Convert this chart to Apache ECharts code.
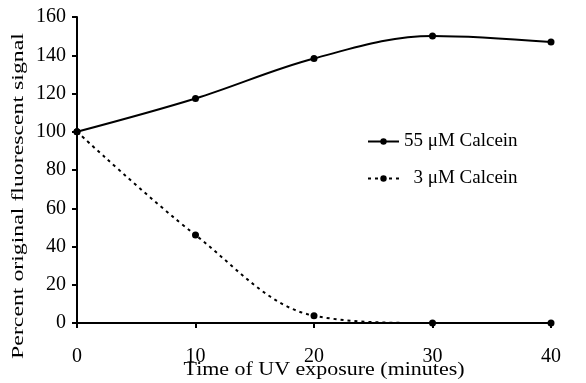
<!DOCTYPE html>
<html>
<head>
<meta charset="utf-8">
<script src="https://cdn.jsdelivr.net/npm/echarts@6/dist/echarts.min.js"></script>
<style>
  html, body { margin: 0; padding: 0; background: #fff; }
  #chart { width: 586px; height: 383px; }
</style>
</head>
<body>
<div id="chart"></div>
<script type="text/javascript">
  // data
  var minutes = [0, 10, 20, 30, 40];
  var high = [100, 117.4, 138.3, 150.1, 146.9];   // 55 uM
  var low = [100, 46, 3.8, 0, 0];                 // 3 uM
  var seriesNames = ['55 μM Calcein', '3 μM Calcein'];
  var xTitle = 'Time of UV exposure (minutes)';
  var yTitle = 'Percent original fluorescent signal';

  var serif = 'Liberation Serif';
  var chart = echarts.init(document.getElementById('chart'));

  function pairs(ys) {
    return minutes.map(function (x, i) { return [x, ys[i]]; });
  }

  var option = {
    animation: false,
    grid: { left: 77, right: 35, top: 17, bottom: 60, outerBoundsMode: 'none', containLabel: false },
    legend: {
      orient: 'vertical',
      left: 362,
      top: 127,
      itemGap: 18,
      itemWidth: 31,
      itemHeight: 8,
      textStyle: { fontFamily: serif, fontSize: 19, color: '#000' },
      formatter: function (name) {
        // second label sits indented by one digit in the original
        return name === seriesNames[1] ? '\u2007' + name : name;
      },
      data: seriesNames
    },
    // axis titles are stretched wide in the original, so draw them as scaled text
    graphic: [
      {
        type: 'text',
        x: 324, y: 370,
        scaleX: 1.22,
        style: {
          text: xTitle, fill: '#000',
          font: '18px "Liberation Serif"',
          textAlign: 'center', textVerticalAlign: 'middle'
        }
      },
      {
        type: 'text',
        x: 19, y: 196,
        rotation: Math.PI / 2,
        scaleX: 1.4,
        style: {
          text: yTitle, fill: '#000',
          font: '17px "Liberation Serif"',
          textAlign: 'center', textVerticalAlign: 'middle'
        }
      }
    ],
    xAxis: {
      type: 'value',
      min: 0, max: 40, interval: 10,
      axisLine: { onZero: false, lineStyle: { color: '#000', width: 2 } },
      axisTick: { show: true, length: 5, lineStyle: { color: '#000', width: 2 } },
      axisLabel: { fontFamily: serif, fontSize: 20, color: '#000', margin: 24 },
      splitLine: { show: false }
    },
    yAxis: {
      type: 'value',
      min: 0, max: 160, interval: 20,
      axisLine: { show: true, lineStyle: { color: '#000', width: 2 } },
      axisTick: { show: true, length: 5, lineStyle: { color: '#000', width: 2 } },
      axisLabel: { fontFamily: serif, fontSize: 20, color: '#000', margin: 11 },
      splitLine: { show: false }
    },
    series: [
      {
        name: seriesNames[0],
        type: 'line',
        smooth: 0.35,
        data: pairs(high),
        symbol: 'circle',
        symbolSize: 7,
        itemStyle: { color: '#000' },
        lineStyle: { color: '#000', width: 2, type: 'solid' }
      },
      {
        name: seriesNames[1],
        type: 'line',
        smooth: 0.35,
        data: pairs(low),
        symbol: 'circle',
        symbolSize: 7,
        itemStyle: { color: '#000' },
        lineStyle: { color: '#000', width: 2, type: [3, 4] }
      }
    ]
  };

  chart.setOption(option);
</script>
</body>
</html>
